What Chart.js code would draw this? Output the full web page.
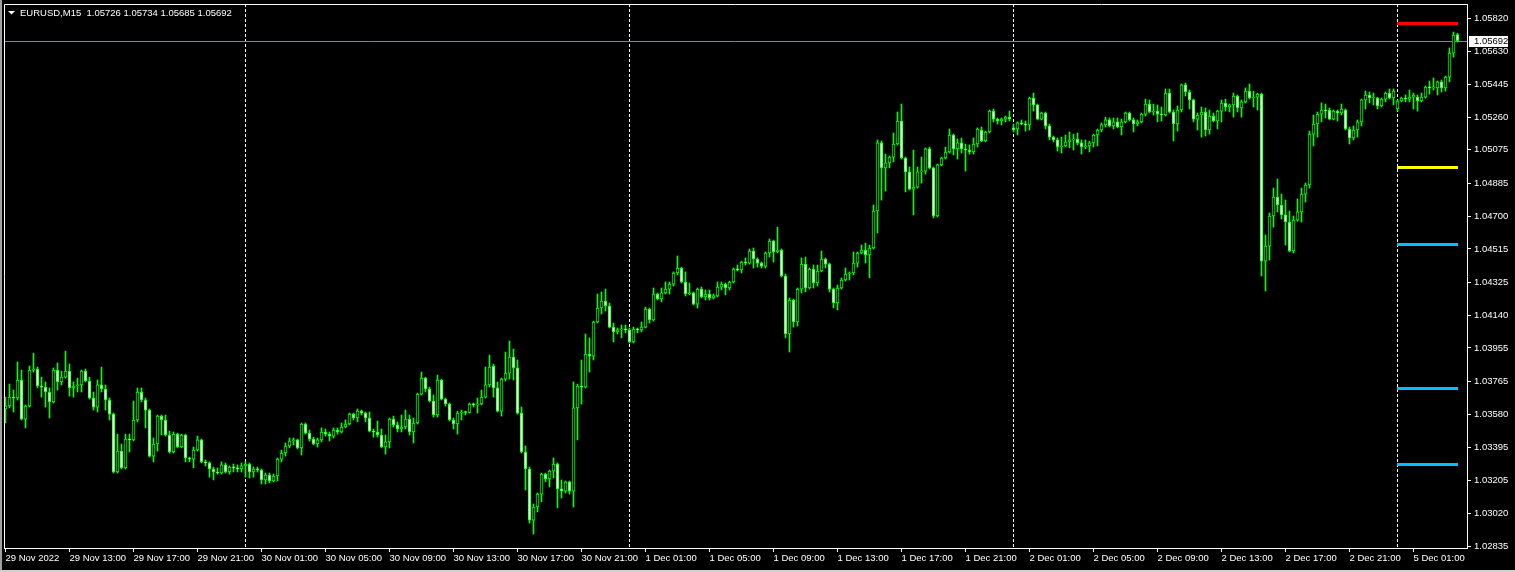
<!DOCTYPE html>
<html>
<head>
<meta charset="utf-8">
<title>EURUSD,M15</title>
<script src="https://cdn.jsdelivr.net/npm/chart.js@4.4.1/dist/chart.umd.min.js"></script>
<style>
  html, body { margin: 0; padding: 0; background: #000; }
  #wrap { position: relative; width: 1515px; height: 572px; }
</style>
</head>
<body>
<div id="wrap"><canvas id="priceChart"></canvas></div>
<script>
// DATA (EURUSD M15, 29 Nov 2022 09:00 -> 5 Dec 2022 03:45)
const symbolName = 'EURUSD,M15';

const opens = [
  1.03610,1.03627,1.03677,1.03672,1.03774,1.03553,1.03627,1.03830,1.03836,1.03740,1.03734,1.03706,1.03650,1.03830,1.03763,1.03790,1.03824,1.03729,1.03740,1.03746,
  1.03824,1.03768,1.03672,1.03621,1.03746,1.03723,1.03661,1.03581,1.03254,1.03372,1.03277,1.03440,1.03435,1.03548,1.03706,1.03661,1.03604,1.03344,1.03412,1.03570,
  1.03548,1.03463,1.03367,1.03468,1.03395,1.03463,1.03333,1.03327,1.03378,1.03435,1.03311,1.03305,1.03271,1.03254,1.03248,1.03294,1.03254,1.03282,1.03277,1.03271,
  1.03288,1.03299,1.03254,1.03271,1.03265,1.03209,1.03237,1.03203,1.03231,1.03327,1.03361,1.03401,1.03429,1.03435,1.03390,1.03525,1.03474,1.03440,1.03412,1.03435,
  1.03480,1.03468,1.03457,1.03491,1.03480,1.03508,1.03525,1.03581,1.03559,1.03598,1.03587,1.03559,1.03485,1.03480,1.03463,1.03395,1.03424,1.03553,1.03520,1.03497,
  1.03508,1.03553,1.03480,1.03531,1.03694,1.03785,1.03723,1.03655,1.03576,1.03774,1.03666,1.03638,1.03548,1.03525,1.03587,1.03593,1.03590,1.03638,1.03633,1.03638,
  1.03677,1.03746,1.03853,1.03729,1.03598,1.03779,1.03813,1.03903,1.03842,1.03587,1.03367,1.03271,1.02982,1.03056,1.03129,1.03242,1.03214,1.03259,1.03299,1.03158,
  1.03146,1.03198,1.03146,1.03616,1.03740,1.03734,1.03920,1.03909,1.04102,1.04181,1.04220,1.04192,1.04073,1.04046,1.04057,1.04062,1.04057,1.03989,1.04062,1.04057,
  1.04073,1.04175,1.04113,1.04260,1.04232,1.04266,1.04288,1.04316,1.04379,1.04407,1.04328,1.04260,1.04266,1.04203,1.04288,1.04243,1.04260,1.04238,1.04249,1.04299,
  1.04316,1.04294,1.04328,1.04401,1.04396,1.04441,1.04435,1.04503,1.04458,1.04435,1.04418,1.04492,1.04559,1.04498,1.04509,1.04362,1.04034,1.04226,1.04102,1.04288,
  1.04429,1.04294,1.04401,1.04322,1.04390,1.04458,1.04429,1.04288,1.04209,1.04294,1.04339,1.04373,1.04379,1.04435,1.04492,1.04509,1.04481,1.04520,1.04729,1.05114,
  1.04973,1.05001,1.05034,1.05108,1.05238,1.05029,1.04950,1.04853,1.04864,1.04950,1.04955,1.05080,1.04973,1.04701,1.04990,1.05029,1.05063,1.05159,1.05080,1.05114,
  1.05080,1.05074,1.05063,1.05108,1.05187,1.05125,1.05176,1.05294,1.05249,1.05238,1.05249,1.05260,1.05199,1.05193,1.05227,1.05221,1.05216,1.05368,1.05329,1.05249,
  1.05283,1.05210,1.05147,1.05131,1.05091,1.05097,1.05120,1.05131,1.05136,1.05114,1.05091,1.05097,1.05114,1.05159,1.05187,1.05216,1.05244,1.05210,1.05233,1.05204,
  1.05233,1.05283,1.05244,1.05221,1.05233,1.05277,1.05334,1.05289,1.05294,1.05277,1.05272,1.05396,1.05289,1.05221,1.05300,1.05442,1.05402,1.05357,1.05249,1.05272,
  1.05289,1.05187,1.05266,1.05238,1.05294,1.05340,1.05317,1.05329,1.05379,1.05312,1.05346,1.05407,1.05368,1.05373,1.05390,1.04446,1.04531,1.04701,1.04808,1.04763,
  1.04707,1.04667,1.04503,1.04678,1.04724,1.04825,1.04876,1.05164,1.05221,1.05277,1.05300,1.05300,1.05249,1.05294,1.05283,1.05300,1.05193,1.05142,1.05187,1.05233,
  1.05357,1.05385,1.05368,1.05368,1.05323,1.05362,1.05396,1.05368,1.05306,1.05351,1.05368,1.05362,1.05373,1.05373,1.05351,1.05373,1.05430,1.05425,1.05425,1.05459,
  1.05425,1.05486,1.05622,1.05726
];

const highs = [
  1.03677,1.03751,1.03717,1.03876,1.03830,1.03633,1.03853,1.03926,1.03847,1.03790,1.03763,1.03729,1.03842,1.03870,1.03824,1.03937,1.03864,1.03763,1.03785,1.03830,
  1.03836,1.03790,1.03706,1.03774,1.03847,1.03746,1.03672,1.03587,1.03468,1.03412,1.03468,1.03468,1.03655,1.03729,1.03729,1.03672,1.03610,1.03446,1.03576,1.03576,
  1.03576,1.03485,1.03480,1.03474,1.03468,1.03468,1.03338,1.03395,1.03457,1.03440,1.03322,1.03311,1.03282,1.03277,1.03311,1.03305,1.03288,1.03299,1.03294,1.03305,
  1.03311,1.03305,1.03282,1.03282,1.03271,1.03248,1.03248,1.03242,1.03333,1.03378,1.03418,1.03446,1.03446,1.03440,1.03531,1.03531,1.03491,1.03451,1.03446,1.03503,
  1.03497,1.03480,1.03503,1.03503,1.03531,1.03548,1.03587,1.03587,1.03610,1.03604,1.03593,1.03593,1.03497,1.03542,1.03497,1.03463,1.03559,1.03570,1.03537,1.03576,
  1.03604,1.03576,1.03559,1.03700,1.03819,1.03790,1.03734,1.03689,1.03802,1.03779,1.03672,1.03644,1.03559,1.03598,1.03604,1.03598,1.03644,1.03644,1.03672,1.03717,
  1.03847,1.03915,1.03864,1.03763,1.03785,1.03932,1.03994,1.03949,1.03887,1.03621,1.03401,1.03282,1.03073,1.03135,1.03248,1.03248,1.03265,1.03333,1.03305,1.03209,
  1.03203,1.03203,1.03763,1.03751,1.03887,1.04034,1.04012,1.04107,1.04260,1.04272,1.04288,1.04209,1.04096,1.04068,1.04085,1.04085,1.04068,1.04073,1.04068,1.04102,
  1.04186,1.04181,1.04294,1.04266,1.04294,1.04328,1.04328,1.04385,1.04475,1.04412,1.04385,1.04322,1.04272,1.04294,1.04299,1.04283,1.04283,1.04260,1.04328,1.04328,
  1.04322,1.04333,1.04407,1.04424,1.04446,1.04464,1.04514,1.04520,1.04464,1.04441,1.04498,1.04571,1.04565,1.04638,1.04515,1.04373,1.04238,1.04232,1.04294,1.04464,
  1.04469,1.04407,1.04424,1.04424,1.04503,1.04464,1.04435,1.04294,1.04311,1.04351,1.04407,1.04385,1.04498,1.04498,1.04537,1.04548,1.04537,1.04763,1.05131,1.05125,
  1.05051,1.05040,1.05170,1.05289,1.05334,1.05034,1.04978,1.05074,1.04978,1.05034,1.05086,1.05091,1.04978,1.04995,1.05034,1.05091,1.05193,1.05164,1.05136,1.05142,
  1.05108,1.05103,1.05142,1.05199,1.05204,1.05181,1.05300,1.05306,1.05255,1.05255,1.05266,1.05294,1.05221,1.05233,1.05244,1.05238,1.05373,1.05396,1.05334,1.05289,
  1.05289,1.05221,1.05153,1.05142,1.05147,1.05159,1.05176,1.05164,1.05170,1.05131,1.05131,1.05125,1.05164,1.05193,1.05227,1.05260,1.05255,1.05255,1.05255,1.05249,
  1.05289,1.05289,1.05255,1.05244,1.05283,1.05362,1.05357,1.05334,1.05329,1.05317,1.05419,1.05419,1.05300,1.05323,1.05447,1.05453,1.05413,1.05362,1.05283,1.05317,
  1.05312,1.05300,1.05283,1.05300,1.05357,1.05362,1.05334,1.05396,1.05385,1.05357,1.05425,1.05447,1.05407,1.05396,1.05396,1.04594,1.04718,1.04859,1.04910,1.04825,
  1.04791,1.04729,1.04701,1.04797,1.04859,1.04887,1.05181,1.05272,1.05289,1.05340,1.05334,1.05312,1.05300,1.05300,1.05334,1.05306,1.05204,1.05210,1.05244,1.05362,
  1.05407,1.05402,1.05396,1.05373,1.05368,1.05402,1.05419,1.05419,1.05357,1.05373,1.05385,1.05413,1.05396,1.05385,1.05396,1.05436,1.05464,1.05481,1.05464,1.05470,
  1.05492,1.05651,1.05741,1.05734
];

const lows = [
  1.03531,1.03616,1.03593,1.03661,1.03548,1.03503,1.03621,1.03819,1.03729,1.03677,1.03621,1.03559,1.03644,1.03717,1.03746,1.03785,1.03683,1.03677,1.03706,1.03706,
  1.03763,1.03666,1.03604,1.03593,1.03706,1.03604,1.03548,1.03248,1.03248,1.03271,1.03271,1.03367,1.03430,1.03537,1.03650,1.03503,1.03338,1.03311,1.03372,1.03463,
  1.03457,1.03361,1.03361,1.03390,1.03390,1.03311,1.03311,1.03277,1.03372,1.03305,1.03288,1.03225,1.03209,1.03242,1.03242,1.03248,1.03242,1.03254,1.03254,1.03254,
  1.03225,1.03220,1.03225,1.03254,1.03186,1.03186,1.03192,1.03198,1.03203,1.03311,1.03344,1.03390,1.03407,1.03384,1.03350,1.03468,1.03429,1.03407,1.03395,1.03424,
  1.03457,1.03429,1.03446,1.03468,1.03474,1.03503,1.03520,1.03548,1.03537,1.03576,1.03537,1.03480,1.03451,1.03451,1.03390,1.03355,1.03390,1.03508,1.03480,1.03480,
  1.03497,1.03463,1.03418,1.03525,1.03689,1.03706,1.03650,1.03564,1.03564,1.03661,1.03627,1.03542,1.03497,1.03468,1.03548,1.03576,1.03587,1.03621,1.03587,1.03633,
  1.03672,1.03734,1.03677,1.03593,1.03570,1.03768,1.03779,1.03774,1.03581,1.03361,1.03152,1.02965,1.02903,1.03028,1.03085,1.03198,1.03169,1.03220,1.03051,1.03107,
  1.03135,1.03129,1.03056,1.03435,1.03638,1.03729,1.03819,1.03887,1.04096,1.04147,1.04164,1.04068,1.03989,1.04034,1.04012,1.04040,1.03983,1.03983,1.04040,1.04046,
  1.04068,1.04096,1.04107,1.04226,1.04215,1.04260,1.04260,1.04305,1.04368,1.04322,1.04249,1.04255,1.04198,1.04181,1.04238,1.04226,1.04226,1.04232,1.04243,1.04283,
  1.04255,1.04283,1.04322,1.04390,1.04379,1.04424,1.04429,1.04407,1.04412,1.04407,1.04407,1.04469,1.04441,1.04492,1.04356,1.04012,1.03932,1.04073,1.04079,1.04266,
  1.04272,1.04288,1.04294,1.04305,1.04385,1.04407,1.04272,1.04181,1.04170,1.04288,1.04333,1.04339,1.04368,1.04412,1.04486,1.04435,1.04351,1.04514,1.04605,1.04791,
  1.04842,1.04973,1.05007,1.05103,1.05023,1.04837,1.04848,1.04707,1.04859,1.04887,1.04938,1.04967,1.04690,1.04695,1.04984,1.05023,1.05057,1.05046,1.05023,1.05057,
  1.04955,1.05051,1.05051,1.05091,1.05120,1.05120,1.05170,1.05233,1.05221,1.05216,1.05233,1.05238,1.05176,1.05159,1.05216,1.05181,1.05187,1.05294,1.05244,1.05244,
  1.05193,1.05131,1.05120,1.05068,1.05057,1.05091,1.05086,1.05074,1.05103,1.05051,1.05080,1.05063,1.05091,1.05097,1.05176,1.05204,1.05204,1.05193,1.05199,1.05159,
  1.05227,1.05238,1.05176,1.05210,1.05227,1.05266,1.05283,1.05272,1.05233,1.05238,1.05266,1.05283,1.05125,1.05181,1.05289,1.05379,1.05306,1.05233,1.05187,1.05147,
  1.05153,1.05164,1.05233,1.05193,1.05233,1.05294,1.05289,1.05260,1.05289,1.05260,1.05340,1.05362,1.05317,1.05300,1.04362,1.04277,1.04452,1.04638,1.04724,1.04684,
  1.04537,1.04498,1.04492,1.04672,1.04667,1.04780,1.04859,1.05097,1.05147,1.05233,1.05255,1.05244,1.05244,1.05238,1.05272,1.05187,1.05108,1.05131,1.05147,1.05210,
  1.05306,1.05340,1.05329,1.05306,1.05317,1.05346,1.05362,1.05329,1.05294,1.05346,1.05346,1.05346,1.05306,1.05294,1.05346,1.05368,1.05390,1.05413,1.05385,1.05402,
  1.05407,1.05459,1.05599,1.05685
];

const closes = [
  1.03627,1.03677,1.03672,1.03774,1.03553,1.03627,1.03830,1.03836,1.03740,1.03734,1.03706,1.03650,1.03830,1.03763,1.03790,1.03824,1.03729,1.03740,1.03746,1.03824,
  1.03768,1.03672,1.03621,1.03746,1.03723,1.03661,1.03581,1.03254,1.03372,1.03277,1.03440,1.03435,1.03548,1.03706,1.03661,1.03604,1.03344,1.03412,1.03570,1.03548,
  1.03463,1.03367,1.03468,1.03395,1.03463,1.03333,1.03327,1.03378,1.03435,1.03311,1.03305,1.03271,1.03254,1.03248,1.03294,1.03254,1.03282,1.03277,1.03271,1.03288,
  1.03299,1.03254,1.03271,1.03265,1.03209,1.03237,1.03203,1.03231,1.03327,1.03361,1.03401,1.03429,1.03435,1.03390,1.03525,1.03474,1.03440,1.03412,1.03435,1.03480,
  1.03468,1.03457,1.03491,1.03480,1.03508,1.03525,1.03581,1.03559,1.03598,1.03587,1.03559,1.03485,1.03480,1.03463,1.03395,1.03424,1.03553,1.03520,1.03497,1.03508,
  1.03553,1.03480,1.03531,1.03694,1.03785,1.03723,1.03655,1.03576,1.03774,1.03666,1.03638,1.03548,1.03525,1.03587,1.03593,1.03590,1.03638,1.03633,1.03638,1.03677,
  1.03746,1.03847,1.03729,1.03598,1.03779,1.03813,1.03903,1.03842,1.03587,1.03367,1.03271,1.02982,1.03056,1.03129,1.03242,1.03214,1.03259,1.03299,1.03158,1.03146,
  1.03198,1.03146,1.03616,1.03740,1.03734,1.03920,1.03909,1.04102,1.04181,1.04220,1.04192,1.04073,1.04046,1.04057,1.04062,1.04057,1.03989,1.04062,1.04057,1.04073,
  1.04175,1.04113,1.04260,1.04232,1.04266,1.04288,1.04316,1.04379,1.04407,1.04328,1.04260,1.04266,1.04203,1.04288,1.04243,1.04260,1.04238,1.04249,1.04299,1.04316,
  1.04294,1.04328,1.04401,1.04396,1.04441,1.04435,1.04503,1.04458,1.04435,1.04418,1.04492,1.04559,1.04498,1.04509,1.04362,1.04034,1.04226,1.04102,1.04288,1.04429,
  1.04294,1.04401,1.04322,1.04390,1.04458,1.04429,1.04288,1.04209,1.04294,1.04339,1.04373,1.04379,1.04435,1.04492,1.04509,1.04481,1.04520,1.04729,1.05114,1.04973,
  1.05001,1.05034,1.05108,1.05238,1.05029,1.04950,1.04853,1.04864,1.04950,1.04955,1.05080,1.04973,1.04701,1.04990,1.05029,1.05063,1.05159,1.05080,1.05114,1.05080,
  1.05074,1.05063,1.05108,1.05193,1.05125,1.05176,1.05294,1.05249,1.05238,1.05249,1.05260,1.05249,1.05187,1.05227,1.05221,1.05216,1.05368,1.05329,1.05249,1.05283,
  1.05210,1.05147,1.05131,1.05091,1.05097,1.05120,1.05131,1.05136,1.05114,1.05091,1.05097,1.05114,1.05159,1.05187,1.05216,1.05244,1.05210,1.05233,1.05204,1.05233,
  1.05283,1.05244,1.05221,1.05233,1.05277,1.05334,1.05289,1.05294,1.05277,1.05272,1.05396,1.05289,1.05221,1.05300,1.05442,1.05402,1.05357,1.05249,1.05272,1.05289,
  1.05187,1.05266,1.05238,1.05294,1.05340,1.05317,1.05329,1.05379,1.05312,1.05346,1.05407,1.05368,1.05373,1.05390,1.04446,1.04531,1.04701,1.04808,1.04763,1.04707,
  1.04667,1.04503,1.04678,1.04724,1.04825,1.04876,1.05164,1.05221,1.05277,1.05300,1.05294,1.05249,1.05294,1.05283,1.05306,1.05193,1.05142,1.05187,1.05233,1.05357,
  1.05385,1.05368,1.05373,1.05323,1.05362,1.05396,1.05368,1.05407,1.05351,1.05368,1.05362,1.05373,1.05385,1.05351,1.05373,1.05430,1.05425,1.05430,1.05459,1.05425,
  1.05486,1.05622,1.05724,1.05692
];

// time axis: one label every 16 bars (4 hours)
const timeLabels = [
  '29 Nov 2022', '29 Nov 13:00', '29 Nov 17:00', '29 Nov 21:00', '30 Nov 01:00', '30 Nov 05:00',
  '30 Nov 09:00', '30 Nov 13:00', '30 Nov 17:00', '30 Nov 21:00', '1 Dec 01:00', '1 Dec 05:00',
  '1 Dec 09:00', '1 Dec 13:00', '1 Dec 17:00', '1 Dec 21:00', '2 Dec 01:00', '2 Dec 05:00',
  '2 Dec 09:00', '2 Dec 13:00', '2 Dec 17:00', '2 Dec 21:00', '5 Dec 01:00'
];
const barsPerLabel = 16;
const dayStartBars = [60, 156, 252, 348];

const priceTicks = [
  1.05820, 1.05630, 1.05445, 1.05260, 1.05075, 1.04885, 1.04700, 1.04515, 1.04325,
  1.04140, 1.03955, 1.03765, 1.03580, 1.03395, 1.03205, 1.03020, 1.02835
];

// horizontal levels drawn on the last session
const levelPrices = [1.05793, 1.04978, 1.04543, 1.03727, 1.03300];
const levelColors = ['#ff0000', '#ffff00', '#00bfff', '#00bfff', '#00bfff'];
const levelStartBar = 348;

// CHART
Chart.defaults.color = '#ffffff';
Chart.defaults.font.family = "'Liberation Sans', Arial, sans-serif";
Chart.defaults.font.size = 9.5;

const lastBar = closes.length - 1;
const bidPrice = closes[lastBar];
const headerText = symbolName + '  ' + [opens[lastBar], highs[lastBar], lows[lastBar], closes[lastBar]].map(v => v.toFixed(5)).join(' ');

const bodyData = opens.map((o, i) => ({ x: i, y: [o, closes[i]] }));
const wickData = lows.map((l, i) => ({ x: i, y: [l, highs[i]] }));
const bodyFill = opens.map((o, i) => closes[i] < o ? '#ffffff' : '#000000');

const terminalDecor = {
  id: 'terminalDecor',
  beforeDatasetsDraw(chart) {
    const { ctx, chartArea: a, scales: { x, y } } = chart;
    ctx.save();
    // period separators
    ctx.strokeStyle = '#ffffff';
    ctx.lineWidth = 1;
    ctx.setLineDash([3, 2]);
    dayStartBars.forEach(b => {
      const px = Math.floor(x.getPixelForValue(b)) + 0.5;
      ctx.beginPath();
      ctx.moveTo(px, a.top);
      ctx.lineTo(px, a.bottom);
      ctx.stroke();
    });
    ctx.setLineDash([]);
    // bid line
    const by = Math.round(y.getPixelForValue(bidPrice)) + 0.5;
    ctx.strokeStyle = '#778899';
    ctx.beginPath();
    ctx.moveTo(a.left, by);
    ctx.lineTo(a.right, by);
    ctx.stroke();
    ctx.restore();
  },
  afterDatasetsDraw(chart) {
    const { ctx, scales: { x, y } } = chart;
    const x0 = x.getPixelForValue(levelStartBar) - 0.5;
    const x1 = x.getPixelForValue(lastBar) + 0.5;
    ctx.save();
    levelPrices.forEach((p, k) => {
      const ly = Math.round(y.getPixelForValue(p));
      ctx.fillStyle = levelColors[k];
      ctx.fillRect(x0, ly - 1, x1 - x0, 3);
    });
    ctx.restore();
  },
  afterDraw(chart) {
    const { ctx, chartArea: a, scales: { y } } = chart;
    ctx.save();
    // frame top and left
    ctx.strokeStyle = '#ffffff';
    ctx.lineWidth = 1;
    ctx.beginPath();
    ctx.moveTo(a.left + 0.5, a.bottom);
    ctx.lineTo(a.left + 0.5, a.top + 0.5);
    ctx.lineTo(a.right, a.top + 0.5);
    ctx.stroke();
    // header
    ctx.fillStyle = '#ffffff';
    ctx.beginPath();
    ctx.moveTo(8, 11);
    ctx.lineTo(15, 11);
    ctx.lineTo(11.5, 14.5);
    ctx.closePath();
    ctx.fill();
    ctx.font = "9.5px 'Liberation Sans', Arial, sans-serif";
    ctx.textBaseline = 'middle';
    ctx.textAlign = 'left';
    ctx.fillText(headerText, 20, 13);
    // bid price label
    const by = Math.round(y.getPixelForValue(bidPrice));
    ctx.fillStyle = '#ffffff';
    ctx.fillRect(a.right + 2, by - 5, 39, 11);
    ctx.fillStyle = '#000000';
    ctx.fillText(bidPrice.toFixed(5), a.right + 7, by + 0.5);
    // window border
    ctx.fillStyle = '#a0a0a0';
    ctx.fillRect(0, 0, 2, chart.height);
    ctx.fillStyle = '#d4d0c8';
    ctx.fillRect(0, chart.height - 2, chart.width, 2);
    ctx.restore();
  }
};

new Chart(document.getElementById('priceChart'), {
  type: 'bar',
  data: {
    datasets: [
      { label: 'body', data: bodyData, backgroundColor: bodyFill, borderColor: '#00ff00', borderWidth: 1,
        borderSkipped: false, maxBarThickness: 3, minBarLength: 1, grouped: false, order: 0,
        barPercentage: 1, categoryPercentage: 1 },
      { label: 'wick', data: wickData, backgroundColor: '#00ff00', borderWidth: 0,
        maxBarThickness: 1, grouped: false, order: 1, barPercentage: 1, categoryPercentage: 1 }
    ]
  },
  options: {
    responsive: true,
    maintainAspectRatio: false,
    animation: false,
    devicePixelRatio: 1,
    events: [],
    layout: { padding: { left: 4, top: 4, right: 0, bottom: 0 } },
    plugins: { legend: { display: false }, tooltip: { enabled: false } },
    scales: {
      x: {
        type: 'linear',
        position: 'bottom',
        offset: false,
        min: -0.375,
        max: 365.375,
        afterFit: s => { s.height = 24; s.paddingLeft = 0; s.paddingRight = 0; },
        afterBuildTicks: s => { s.ticks = timeLabels.map((_, k) => ({ value: k * barsPerLabel })); },
        border: { color: '#ffffff' },
        grid: { drawOnChartArea: false, offset: false, color: '#ffffff', tickLength: 4 },
        ticks: { autoSkip: false, maxRotation: 0, align: 'start', padding: 1, color: '#ffffff',
          callback: (v, i) => timeLabels[i] }
      },
      y: {
        position: 'right',
        stacked: false,
        min: 1.028242,
        max: 1.058994,
        afterFit: s => { s.width = 48; s.paddingTop = 0; s.paddingBottom = 0; },
        afterBuildTicks: s => { s.ticks = priceTicks.map(v => ({ value: v })); },
        border: { color: '#ffffff' },
        grid: { drawOnChartArea: false, color: '#ffffff', tickLength: 4 },
        ticks: { autoSkip: false, padding: 3, color: '#ffffff', callback: v => v.toFixed(5) }
      }
    }
  },
  plugins: [terminalDecor]
});
</script>
</body>
</html>
